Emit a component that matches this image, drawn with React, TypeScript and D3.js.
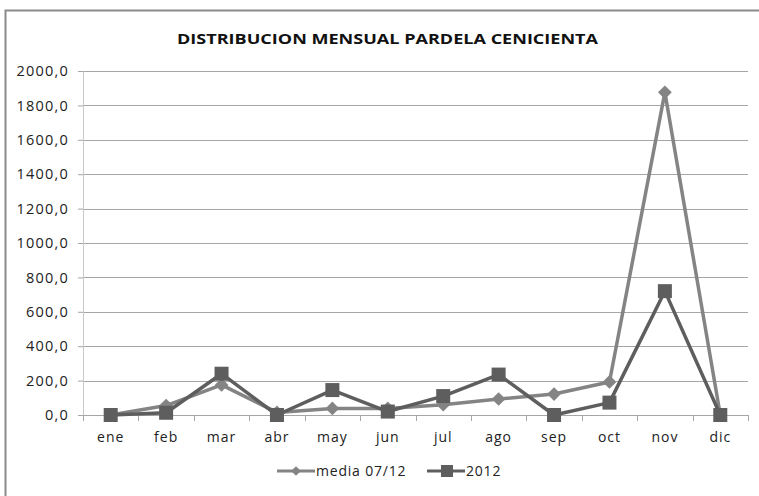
import React, { useEffect, useRef } from 'react';
import * as d3 from 'd3';

const months = ['ene', 'feb', 'mar', 'abr', 'may', 'jun', 'jul', 'ago', 'sep', 'oct', 'nov', 'dic'];
const media0712 = [0, 55, 175, 15, 38, 38, 60, 93, 122, 192, 1876, 0];
const serie2012 = [0, 13, 240, 0, 145, 20, 110, 235, 0, 72, 720, 0];
const yTicks = [0, 200, 400, 600, 800, 1000, 1200, 1400, 1600, 1800, 2000];

const W = 759;
const H = 496;

export default function App() {
  const ref = useRef<SVGSVGElement>(null);

  useEffect(() => {
    const svg = d3.select(ref.current);
    svg.selectAll('*').remove();

    const margin = { top: 71, right: 11, bottom: 81, left: 83 };
    const width = W - margin.left - margin.right;
    const height = H - margin.top - margin.bottom;
    const font = '"Open Sans", sans-serif';

    // outer frame
    svg.append('rect')
      .attr('x', 5.5).attr('y', 10.5)
      .attr('width', 780).attr('height', 500)
      .attr('fill', '#fff')
      .attr('stroke', '#8a8a8a')
      .attr('stroke-width', 2);

    svg.append('text')
      .attr('x', 177).attr('y', 44)
      .attr('font-family', font)
      .attr('font-weight', 'bold')
      .attr('font-size', 15)
      .attr('textLength', 421)
      .attr('lengthAdjust', 'spacingAndGlyphs')
      .attr('fill', '#111')
      .text('DISTRIBUCION MENSUAL PARDELA CENICIENTA');

    const g = svg.append('g').attr('transform', `translate(${margin.left},${margin.top})`);

    const x = d3.scaleBand().domain(months).range([0, width]);
    const y = d3.scaleLinear().domain([0, 2000]).range([height, 0]);

    // gridlines
    g.selectAll('line.grid')
      .data(yTicks.filter(t => t > 0))
      .enter().append('line')
      .attr('x1', 0).attr('x2', width)
      .attr('y1', d => Math.round(y(d)) + 0.5).attr('y2', d => Math.round(y(d)) + 0.5)
      .attr('stroke', '#a6a6a6');

    // y axis
    const yAxis = g.append('g')
      .call(d3.axisLeft(y).tickValues(yTicks).tickSize(5).tickPadding(9)
        .tickFormat(d => d3.format('.1f')(d as number).replace('.', ',')));
    yAxis.select('.domain').attr('stroke', '#c8c8c8');
    yAxis.selectAll('.tick line').attr('stroke', '#a6a6a6');
    yAxis.selectAll('text').attr('font-family', font).attr('font-size', 14.5)
      .attr('letter-spacing', 1.2).attr('fill', '#222');

    // x axis
    const xAxis = g.append('g').attr('transform', `translate(0,${height})`)
      .call(d3.axisBottom(x).tickSize(0).tickPadding(17));
    xAxis.select('.domain').remove();
    xAxis.selectAll('text').attr('font-family', font).attr('font-size', 14)
      .attr('letter-spacing', 1).attr('fill', '#222');
    g.append('line')
      .attr('x1', -5).attr('x2', width)
      .attr('y1', height + 0.5).attr('y2', height + 0.5)
      .attr('stroke', '#a6a6a6');
    g.selectAll('line.xt')
      .data(d3.range(months.length + 1))
      .enter().append('line')
      .attr('x1', i => Math.round(i * x.step()) + 0.5)
      .attr('x2', i => Math.round(i * x.step()) + 0.5)
      .attr('y1', height).attr('y2', height + 6)
      .attr('stroke', '#a6a6a6');

    const cx = (i: number) => (x(months[i]) as number) + x.bandwidth() / 2;
    const line = d3.line<number>().x((_, i) => cx(i)).y(d => y(d));

    // media 07/12
    g.append('path').datum(media0712)
      .attr('d', line).attr('fill', 'none')
      .attr('stroke', '#848484').attr('stroke-width', 3.5).attr('stroke-linejoin', 'round');
    const diamond = d3.symbol().type(d3.symbolDiamond2).size(120);
    g.selectAll('path.dm').data(media0712).enter().append('path')
      .attr('d', diamond)
      .attr('transform', (d, i) => `translate(${cx(i)},${y(d)})`)
      .attr('fill', '#848484');

    // 2012
    g.append('path').datum(serie2012)
      .attr('d', line).attr('fill', 'none')
      .attr('stroke', '#5e5e5e').attr('stroke-width', 3.5).attr('stroke-linejoin', 'round');
    g.selectAll('rect.sq').data(serie2012).enter().append('rect')
      .attr('x', (d, i) => cx(i) - 7).attr('y', d => y(d) - 7)
      .attr('width', 14).attr('height', 14)
      .attr('fill', '#5e5e5e');

    // legend
    const lg = svg.append('g').attr('transform', 'translate(0,471)');
    lg.append('line').attr('x1', 277).attr('x2', 315).attr('y1', 0).attr('y2', 0)
      .attr('stroke', '#848484').attr('stroke-width', 3);
    lg.append('path').attr('d', d3.symbol().type(d3.symbolDiamond2).size(60))
      .attr('transform', 'translate(296,0)').attr('fill', '#848484');
    lg.append('text').attr('x', 316).attr('y', 5)
      .attr('font-family', font).attr('font-size', 14).attr('letter-spacing', 0.8)
      .attr('fill', '#222')
      .text('media 07/12');
    lg.append('line').attr('x1', 427).attr('x2', 465).attr('y1', 0).attr('y2', 0)
      .attr('stroke', '#5e5e5e').attr('stroke-width', 3);
    lg.append('rect').attr('x', 441).attr('y', -6).attr('width', 12).attr('height', 12)
      .attr('fill', '#5e5e5e');
    lg.append('text').attr('x', 466).attr('y', 5)
      .attr('font-family', font).attr('font-size', 14).attr('letter-spacing', 0.8)
      .attr('fill', '#222')
      .text('2012');
  }, []);

  return (
    <svg ref={ref} width={W} height={H}
      style={{ position: 'absolute', left: 0, top: 0, background: '#fff' }} />
  );
}
